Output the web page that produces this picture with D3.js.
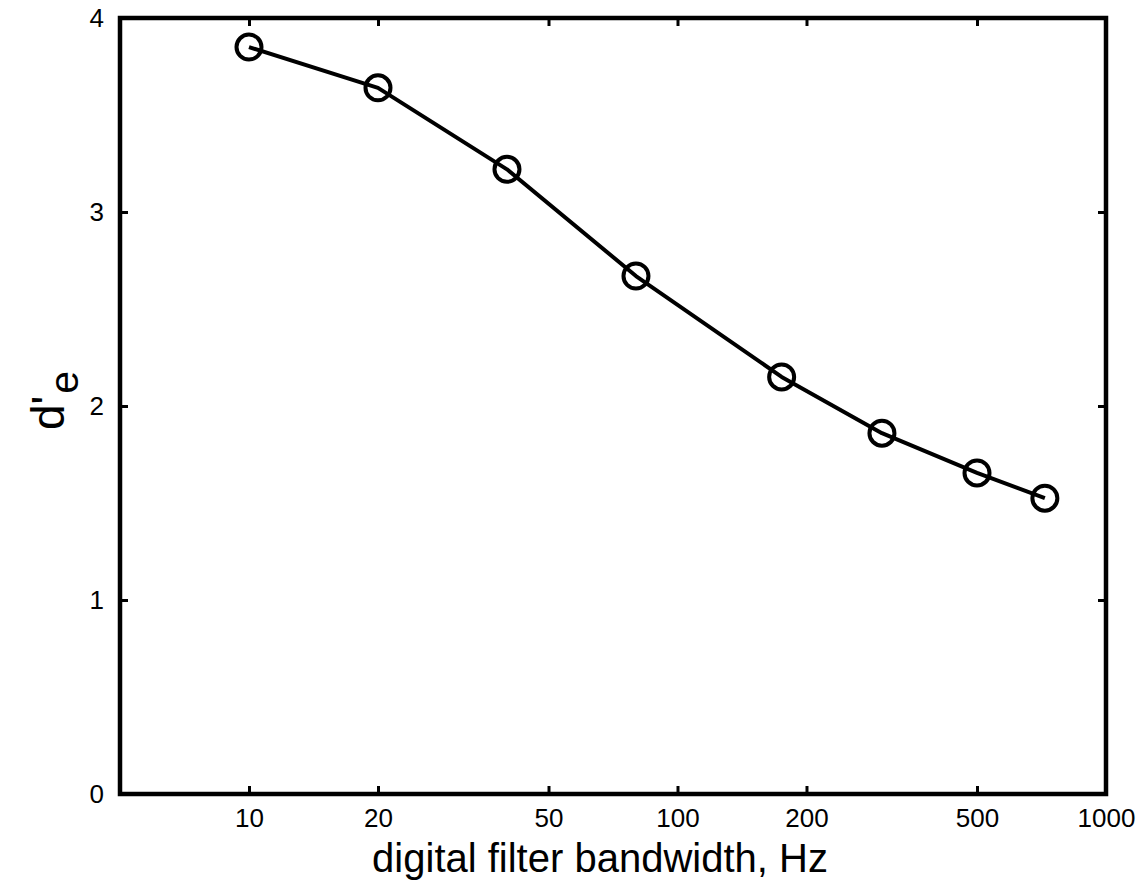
<!DOCTYPE html>
<html>
<head>
<meta charset="utf-8">
<script src="https://cdn.jsdelivr.net/npm/d3@7"></script>
<style>
  html, body { margin: 0; padding: 0; background: #fff; }
  svg { display: block; font-family: "Liberation Sans", Arial, Helvetica, sans-serif; }
</style>
</head>
<body>
<svg id="chart" width="1148" height="882"></svg>
<script>
// Filter bandwidth (Hz) and the resulting sensitivity d'e
const bandwidths = [10, 20, 40, 80, 175, 300, 500, 720];
const dPrime = [3.85, 3.64, 3.22, 2.67, 2.15, 1.86, 1.655, 1.525];
const xTicks = [10, 20, 50, 100, 200, 500, 1000];
const yTicks = [0, 1, 2, 3, 4];
const xLabel = "digital filter bandwidth, Hz";

(function draw() {
  const svg = d3.select("#chart");
  const mLeft = 120, mRight = 1106, mTop = 18, mBottom = 794;

  const x = d3.scaleLog().domain([5, 1000]).range([mLeft, mRight]);
  const y = d3.scaleLinear().domain([0, 4]).range([mBottom, mTop]);

  const tickLen = 8;
  const tickFont = 26;

  // inward ticks on all four sides
  const bottomAxis = d3.axisBottom(x).tickValues(xTicks).tickFormat(d3.format("d"))
    .tickSizeInner(-tickLen).tickSizeOuter(0).tickPadding(15);
  const topAxis = d3.axisTop(x).tickValues(xTicks).tickFormat("")
    .tickSizeInner(-tickLen).tickSizeOuter(0);
  const leftAxis = d3.axisLeft(y).tickValues(yTicks).tickFormat(d3.format("d"))
    .tickSizeInner(-tickLen).tickSizeOuter(0).tickPadding(16);
  const rightAxis = d3.axisRight(y).tickValues(yTicks).tickFormat("")
    .tickSizeInner(-tickLen).tickSizeOuter(0);

  function styleAxis(g) {
    g.select(".domain").remove();
    g.selectAll(".tick line").attr("stroke", "#000").attr("stroke-width", 3);
    g.selectAll(".tick text").attr("fill", "#000").style("font-size", tickFont + "px");
  }

  svg.append("g").attr("transform", `translate(0,${mBottom})`).call(bottomAxis).call(styleAxis);
  svg.append("g").attr("transform", `translate(0,${mTop})`).call(topAxis).call(styleAxis);
  svg.append("g").attr("transform", `translate(${mLeft},0)`).call(leftAxis).call(styleAxis);
  svg.append("g").attr("transform", `translate(${mRight},0)`).call(rightAxis).call(styleAxis);

  // axis frame
  svg.append("rect")
    .attr("x", mLeft).attr("y", mTop)
    .attr("width", mRight - mLeft).attr("height", mBottom - mTop)
    .attr("fill", "none").attr("stroke", "#000").attr("stroke-width", 4.5);

  const pts = bandwidths.map((b, i) => [b, dPrime[i]]);

  // data line
  svg.append("path")
    .datum(pts)
    .attr("fill", "none")
    .attr("stroke", "#000")
    .attr("stroke-width", 4)
    .attr("stroke-linejoin", "round")
    .attr("d", d3.line().x(d => x(d[0])).y(d => y(d[1])));

  // open circle markers
  svg.append("g").selectAll("circle")
    .data(pts).join("circle")
    .attr("cx", d => x(d[0]))
    .attr("cy", d => y(d[1]))
    .attr("r", 12.5)
    .attr("fill", "none")
    .attr("stroke", "#000")
    .attr("stroke-width", 4);

  // x axis title
  svg.append("text")
    .attr("x", (mLeft + mRight) / 2 - 13)
    .attr("y", 872)
    .attr("text-anchor", "middle")
    .style("font-size", "40px")
    .attr("fill", "#000")
    .text(xLabel);

  // y axis title: d' with subscript e, rotated
  const yt = svg.append("text")
    .attr("transform", `translate(64,${(mTop + mBottom) / 2 + 24}) rotate(-90)`)
    .attr("fill", "#000")
    .style("font-size", "46px");
  yt.append("tspan").text("d'");
  yt.append("tspan").attr("dy", 14).attr("dx", 2).style("font-size", "41px").text("e");
})();
</script>
</body>
</html>
